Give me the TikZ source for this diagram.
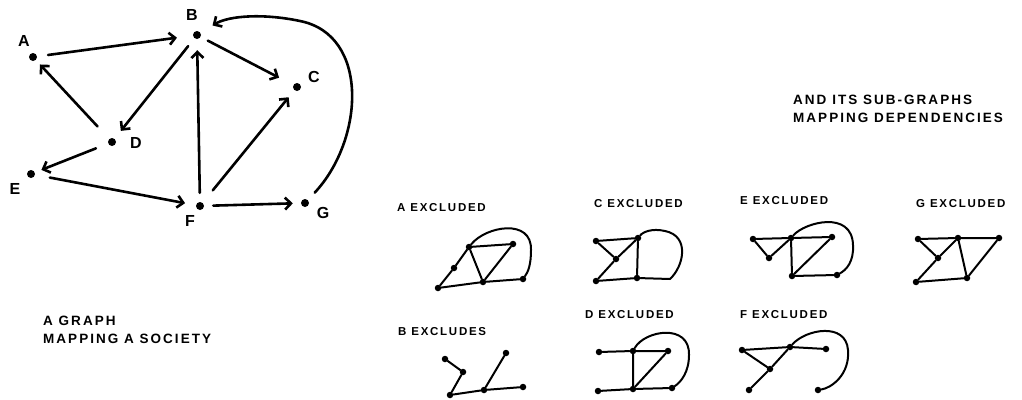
\documentclass[tikz,border=0pt]{standalone}
\usepackage{fontspec}
\setmainfont{Liberation Sans}
\newfontfamily\hand[LetterSpace=15]{Liberation Sans}
\usetikzlibrary{arrows.meta}
\begin{document}
\begin{tikzpicture}[x=1pt,y=-1pt,
  dot/.style={circle,fill,inner sep=0pt,minimum size=8pt},
  sdot/.style={circle,fill,inner sep=0pt,minimum size=6.5pt},
  arr/.style={line width=2.6pt,line cap=round,line join=round,-{Straight Barb[length=6pt,width=12pt]}},
  sedge/.style={line width=2pt,line cap=round,line join=round},
  lbl/.style={font=\bfseries\fontsize{16}{16}\selectfont,inner sep=0pt},
  txt/.style={font=\hand\bfseries\fontsize{13.5}{18}\selectfont,inner sep=0pt,align=left,anchor=north west},
  sub/.style={font=\hand\bfseries\fontsize{11.5}{11.5}\selectfont,inner sep=0pt,anchor=west},
]
\useasboundingbox (0,0) rectangle (1022,399);
% main graph
\node[dot] (A) at (33,57) {};
\node[dot] (B) at (197,35) {};
\node[dot] (C) at (297,87) {};
\node[dot] (D) at (112,142) {};
\node[dot] (E) at (31,174) {};
\node[dot] (F) at (200,206) {};
\node[dot] (G) at (305,203) {};
\node[lbl] (lA) at (24,41) {A};
\node[lbl] (lB) at (192,15) {B};
\node[lbl] (lC) at (314,77) {C};
\node[lbl] (lD) at (136,143) {D};
\node[lbl] (lE) at (15,189) {E};
\node[lbl] (lF) at (190,221) {F};
\node[lbl] (lG) at (323,213) {G};
\draw[arr,shorten <=11pt,shorten >=16pt] (A) -- (B);
\draw[arr,shorten <=17pt,shorten >=6pt] (D) -- (A);
\draw[arr,shorten <=10pt,shorten >=10pt] (B) -- (D);
\draw[arr,shorten <=8pt,shorten >=16pt] (B) -- (C);
\draw[arr,shorten <=13pt,shorten >=7pt] (D) -- (E);
\draw[arr,shorten <=15pt,shorten >=11pt] (E) -- (F);
\draw[arr,shorten <=9pt,shorten >=11pt] (F) -- (B);
\draw[arr,shorten <=16pt,shorten >=9pt] (F) -- (C);
\draw[arr,shorten <=9pt,shorten >=8pt] (F) -- (G);
\draw[arr,shorten <=10pt,shorten >=14pt] (G) .. controls (364,140) and (370,35) .. (300,21) .. controls (262,13) and (228,16) .. (B);
% captions
\node[txt] (t1) at (43,316) {A GRAPH\\MAPPING A SOCIETY};
\node[txt] (t2) at (793,95) {AND ITS SUB-GRAPHS\\MAPPING DEPENDENCIES};
% A excluded
\node[sub] (la) at (397,208) {A EXCLUDED};
\node[sdot] (aB) at (469,247) {};
\node[sdot] (aC) at (513,244) {};
\node[sdot] (aD) at (454,268) {};
\node[sdot] (aE) at (438,288) {};
\node[sdot] (aF) at (483,282) {};
\node[sdot] (aG) at (523,279) {};
\draw[sedge] (aB) -- (aD) -- (aE) -- (aF) -- (aG);
\draw[sedge] (aB) -- (aC) -- (aF) -- (aB);
\draw[sedge] (aB) .. controls (486,226) and (532,218) .. (531,250) .. controls (531,265) and (528,272) .. (aG);
% C excluded
\node[sub] (lc) at (594,204) {C EXCLUDED};
\node[sdot] (cA) at (596,241) {};
\node[sdot] (cB) at (638,238) {};
\node[sdot] (cD) at (616,259) {};
\node[sdot] (cE) at (596,281) {};
\node[sdot] (cF) at (637,278) {};
\coordinate (cG) at (670,279);
\draw[sedge] (cA) -- (cB) -- (cD) -- (cA);
\draw[sedge] (cD) -- (cE) -- (cF) -- (cB);
\draw[sedge] (cF) -- (cG) .. controls (684,266) and (690,236) .. (665,231) .. controls (652,228) and (643,232) .. (cB);
% E excluded
\node[sub] (le) at (740,201) {E EXCLUDED};
\node[sdot] (eA) at (753,239) {};
\node[sdot] (eD) at (769,258) {};
\node[sdot] (eB) at (791,238) {};
\node[sdot] (eC) at (832,237) {};
\node[sdot] (eF) at (792,276) {};
\node[sdot] (eG) at (837,275) {};
\draw[sedge] (eA) -- (eB) -- (eC) -- (eF) -- (eG);
\draw[sedge] (eA) -- (eD) -- (eB) -- (eF);
\draw[sedge] (eB) .. controls (805,222) and (852,210) .. (853,245) .. controls (854,262) and (846,270) .. (eG);
% G excluded
\node[sub] (lg) at (916,204) {G EXCLUDED};
\node[sdot] (gA) at (918,239) {};
\node[sdot] (gB) at (958,238) {};
\node[sdot] (gC) at (999,238) {};
\node[sdot] (gD) at (938,258) {};
\node[sdot] (gE) at (916,282) {};
\node[sdot] (gF) at (967,278) {};
\draw[sedge] (gA) -- (gB) -- (gC) -- (gF) -- (gE) -- (gD) -- (gA);
\draw[sedge] (gD) -- (gB) -- (gF);
% B excluded
\node[sub] (lb) at (398,332) {B EXCLUDES};
\node[sdot] (bA) at (445,359) {};
\node[sdot] (bD) at (463,372) {};
\node[sdot] (bE) at (450,395) {};
\node[sdot] (bF) at (484,390) {};
\node[sdot] (bC) at (506,353) {};
\node[sdot] (bG) at (523,387) {};
\draw[sedge] (bA) -- (bD) -- (bE) -- (bF) -- (bG);
\draw[sedge] (bF) -- (bC);
% D excluded
\node[sub] (ld) at (585,315) {D EXCLUDED};
\node[sdot] (dA) at (599,352) {};
\node[sdot] (dB) at (633,351) {};
\node[sdot] (dC) at (668,351) {};
\node[sdot] (dE) at (598,391) {};
\node[sdot] (dF) at (633,389) {};
\node[sdot] (dG) at (672,388) {};
\draw[sedge] (dA) -- (dB) -- (dC) -- (dF) -- (dB);
\draw[sedge] (dE) -- (dF) -- (dG);
\draw[sedge] (dB) .. controls (645,330) and (690,323) .. (689,355) .. controls (689,372) and (681,382) .. (dG);
% F excluded
\node[sub] (lf) at (740,315) {F EXCLUDED};
\node[sdot] (fA) at (742,350) {};
\node[sdot] (fB) at (790,347) {};
\node[sdot] (fC) at (826,349) {};
\node[sdot] (fD) at (770,369) {};
\node[sdot] (fE) at (749,390) {};
\node[sdot] (fG) at (818,390) {};
\draw[sedge] (fA) -- (fB) -- (fC);
\draw[sedge] (fA) -- (fD) -- (fB);
\draw[sedge] (fD) -- (fE);
\draw[sedge] (fB) .. controls (806,329) and (846,322) .. (848,350) .. controls (850,375) and (831,388) .. (fG);
\end{tikzpicture}
\end{document}
